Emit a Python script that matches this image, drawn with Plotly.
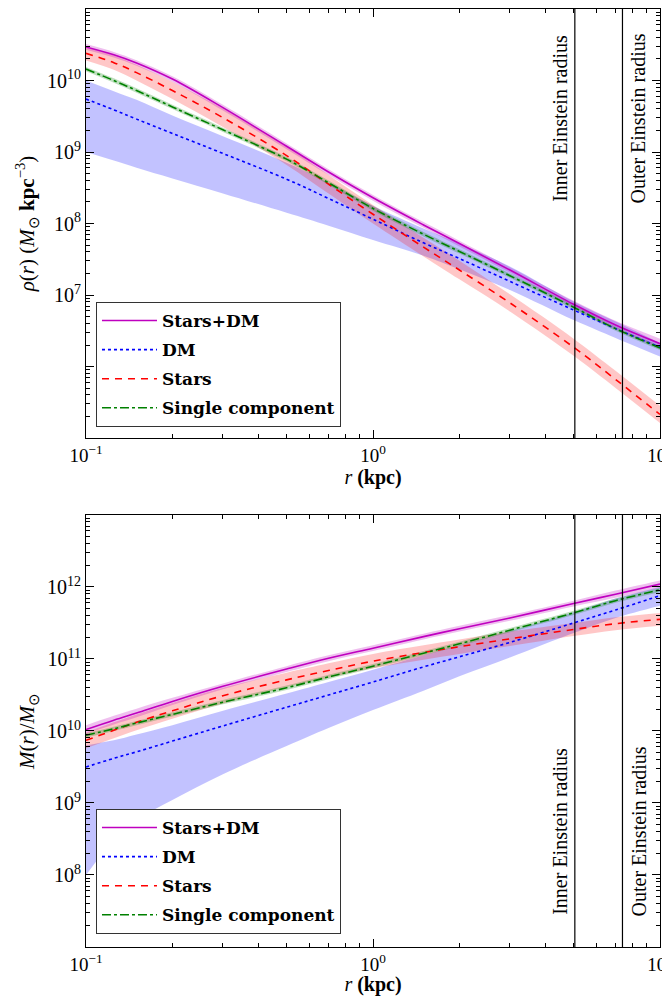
import math
import plotly.graph_objects as go

# ---------------- data ----------------
r_kpc = [0.1, 0.125, 0.15, 0.2, 0.3, 0.5, 0.7, 1, 1.5, 2, 3, 5, 7, 10]

# top panel: log10 rho(r) [M_sun kpc^-3]
rho_total    = [10.47, 10.36, 10.245, 10.02, 9.62, 9.08, 8.72, 8.36, 7.98, 7.72, 7.35, 6.87, 6.58, 6.32]
rho_total_lo = [10.43, 10.32, 10.205, 9.98, 9.58, 9.04, 8.68, 8.32, 7.94, 7.68, 7.31, 6.82, 6.52, 6.25]
rho_total_hi = [10.51, 10.40, 10.285, 10.06, 9.66, 9.12, 8.76, 8.40, 8.02, 7.76, 7.39, 6.92, 6.64, 6.39]

rho_dm    = [9.74, 9.59, 9.46, 9.26, 8.98, 8.62, 8.35, 8.06, 7.73, 7.51, 7.19, 6.79, 6.53, 6.27]
rho_dm_lo = [9.00, 8.88, 8.78, 8.63, 8.42, 8.15, 7.97, 7.77, 7.55, 7.36, 7.07, 6.65, 6.40, 6.14]
rho_dm_hi = [10.00, 9.85, 9.73, 9.51, 9.22, 8.85, 8.57, 8.25, 7.93, 7.72, 7.40, 6.91, 6.63, 6.33]

rho_stars    = [10.38, 10.25, 10.11, 9.86, 9.48, 8.95, 8.55, 8.13, 7.67, 7.35, 6.89, 6.27, 5.82, 5.33]
rho_stars_lo = [10.28, 10.15, 10.00, 9.74, 9.35, 8.82, 8.42, 8.00, 7.54, 7.22, 6.77, 6.15, 5.70, 5.21]
rho_stars_hi = [10.47, 10.35, 10.22, 9.98, 9.61, 9.08, 8.68, 8.26, 7.80, 7.48, 7.01, 6.39, 5.94, 5.45]

rho_single    = [10.16, 10.00, 9.86, 9.63, 9.31, 8.90, 8.57, 8.21, 7.85, 7.61, 7.27, 6.83, 6.53, 6.26]
rho_single_lo = [10.13, 9.97, 9.83, 9.60, 9.28, 8.87, 8.54, 8.18, 7.82, 7.58, 7.24, 6.80, 6.50, 6.23]
rho_single_hi = [10.19, 10.03, 9.89, 9.66, 9.34, 8.93, 8.60, 8.24, 7.88, 7.64, 7.30, 6.86, 6.56, 6.29]

# bottom panel: log10 M(<r) [M_sun]
m_total    = [10.02, 10.15, 10.25, 10.41, 10.62, 10.86, 11.01, 11.15, 11.31, 11.42, 11.57, 11.77, 11.90, 12.04]
m_total_lo = [9.96, 10.09, 10.19, 10.36, 10.58, 10.82, 10.97, 11.11, 11.27, 11.38, 11.53, 11.73, 11.85, 11.99]
m_total_hi = [10.08, 10.21, 10.31, 10.46, 10.66, 10.90, 11.05, 11.19, 11.35, 11.46, 11.61, 11.81, 11.95, 12.09]

m_dm = [9.50, 9.62, 9.71, 9.86, 10.07, 10.33, 10.50, 10.68, 10.89, 11.03, 11.23, 11.50, 11.68, 11.88]
r_band_dm = [0.1, 0.11, 0.125, 0.15, 0.2, 0.3, 0.5, 0.7, 1, 1.5, 2, 3, 5, 7, 10]
m_dm_lo = [8.00, 8.22, 8.50, 8.76, 9.04, 9.40, 9.79, 10.04, 10.29, 10.56, 10.76, 11.02, 11.36, 11.57, 11.74]
m_dm_hi = [9.80, 9.83, 9.87, 9.95, 10.08, 10.28, 10.52, 10.68, 10.85, 11.05, 11.19, 11.39, 11.65, 11.84, 12.00]

m_stars    = [9.87, 10.01, 10.12, 10.28, 10.49, 10.71, 10.84, 10.97, 11.09, 11.17, 11.28, 11.41, 11.49, 11.55]
m_stars_lo = [9.76, 9.90, 10.01, 10.17, 10.38, 10.61, 10.74, 10.87, 10.99, 11.07, 11.18, 11.32, 11.40, 11.46]
m_stars_hi = [9.98, 10.12, 10.23, 10.39, 10.60, 10.81, 10.94, 11.07, 11.19, 11.27, 11.38, 11.50, 11.58, 11.64]

m_single    = [9.94, 10.03, 10.11, 10.23, 10.40, 10.60, 10.75, 10.90, 11.08, 11.21, 11.40, 11.64, 11.81, 11.96]
m_single_lo = [9.91, 10.00, 10.08, 10.20, 10.37, 10.57, 10.72, 10.87, 11.05, 11.18, 11.37, 11.61, 11.78, 11.93]
m_single_hi = [9.97, 10.06, 10.14, 10.26, 10.43, 10.63, 10.78, 10.93, 11.11, 11.24, 11.43, 11.67, 11.84, 11.99]

INNER_EINSTEIN_R = 5.05
OUTER_EINSTEIN_R = 7.4

series_names = ["Stars+DM", "DM", "Stars", "Single component"]

# ---------------- styling ----------------
SERIF = "Liberation Serif"
LEGFONT = "DejaVu Serif"
C_TOT, C_DM, C_ST, C_SG = "#bf00bf", "#0000ff", "#ff0000", "#008000"
F_TOT, F_DM, F_ST, F_SG = ("rgba(191,0,191,0.25)", "rgba(0,0,255,0.24)",
                           "rgba(255,0,0,0.22)", "rgba(0,128,0,0.25)")
SMOOTH = 1.0


def p(vals):
    return [10 ** v for v in vals]


fig = go.Figure()


def band(x, lo, hi, fill, xa, ya):
    fig.add_trace(go.Scatter(x=x, y=p(lo), mode="lines", line=dict(width=0, shape="spline", smoothing=SMOOTH),
                             showlegend=False, hoverinfo="skip", xaxis=xa, yaxis=ya))
    fig.add_trace(go.Scatter(x=x, y=p(hi), mode="lines", line=dict(width=0, shape="spline", smoothing=SMOOTH),
                             fill="tonexty", fillcolor=fill, showlegend=False, hoverinfo="skip",
                             xaxis=xa, yaxis=ya))


def line(x, y, name, color, dash, xa, ya, legend):
    fig.add_trace(go.Scatter(x=x, y=p(y), mode="lines", name=name, legendgroup=legend + name,
                             line=dict(color=color, dash=dash, width=1.6, shape="spline", smoothing=SMOOTH),
                             xaxis=xa, yaxis=ya, legend=legend))


# top panel
band(r_kpc, rho_dm_lo, rho_dm_hi, F_DM, "x", "y")
band(r_kpc, rho_stars_lo, rho_stars_hi, F_ST, "x", "y")
band(r_kpc, rho_single_lo, rho_single_hi, F_SG, "x", "y")
band(r_kpc, rho_total_lo, rho_total_hi, F_TOT, "x", "y")
line(r_kpc, rho_total, series_names[0], C_TOT, "solid", "x", "y", "legend")
line(r_kpc, rho_dm, series_names[1], C_DM, "dot", "x", "y", "legend")
line(r_kpc, rho_stars, series_names[2], C_ST, "7px,6px", "x", "y", "legend")
line(r_kpc, rho_single, series_names[3], C_SG, "dashdot", "x", "y", "legend")

# bottom panel
band(r_band_dm, m_dm_lo, m_dm_hi, F_DM, "x2", "y2")
band(r_kpc, m_stars_lo, m_stars_hi, F_ST, "x2", "y2")
band(r_kpc, m_single_lo, m_single_hi, F_SG, "x2", "y2")
band(r_kpc, m_total_lo, m_total_hi, F_TOT, "x2", "y2")
line(r_kpc, m_total, series_names[0], C_TOT, "solid", "x2", "y2", "legend2")
line(r_kpc, m_dm, series_names[1], C_DM, "dot", "x2", "y2", "legend2")
line(r_kpc, m_stars, series_names[2], C_ST, "7px,6px", "x2", "y2", "legend2")
line(r_kpc, m_single, series_names[3], C_SG, "dashdot", "x2", "y2", "legend2")

# vertical Einstein-radius lines and labels
for xa, ya, ylab in (("x", "y", 0.8838), ("x2", "y2", 0.1237)):
    for rr in (INNER_EINSTEIN_R, OUTER_EINSTEIN_R):
        fig.add_shape(type="line", xref=xa, yref=ya + " domain", x0=rr, x1=rr, y0=0, y1=1,
                      line=dict(color="black", width=1.2))
    fig.add_annotation(x=math.log10(INNER_EINSTEIN_R), xref=xa, y=ylab, yref="paper",
                       text="Inner Einstein radius", textangle=-90, showarrow=False,
                       xanchor="center", yanchor="middle", xshift=-15,
                       font=dict(family=SERIF, size=20, color="black"))
    fig.add_annotation(x=math.log10(OUTER_EINSTEIN_R), xref=xa, y=ylab, yref="paper",
                       text="Outer Einstein radius", textangle=-90, showarrow=False,
                       xanchor="center", yanchor="middle", xshift=16,
                       font=dict(family=SERIF, size=20, color="black"))


def minor_vals(lo, hi):
    return [m * 10 ** k for k in range(lo, hi) for m in range(2, 10)]


def sup(k):
    return "10<sup>%s</sup>" % (str(k).replace("-", "\u2212"))


x_ticks = [0.1, 1, 10]
x_ticktext = [sup(-1), sup(0), sup(1)]

xcommon = dict(type="log", range=[-1, 1], showgrid=False, zeroline=False, showline=True, linecolor="black",
               linewidth=1, mirror="allticks", ticks="inside", ticklen=8, tickcolor="black",
               tickmode="array", tickvals=x_ticks, ticktext=x_ticktext, ticklabeloverflow="allow",
               tickfont=dict(family=SERIF, size=19, color="black"),
               minor=dict(ticks="inside", ticklen=4, tickcolor="black", tickmode="array",
                          tickvals=minor_vals(-1, 1)),
               title=dict(text="<i>r</i> <b>(kpc)</b>", font=dict(family=SERIF, size=20, color="black"),
                          standoff=4))

top_decades = list(range(5, 12))
top_labels = [sup(k) if 7 <= k <= 10 else "" for k in top_decades]
bot_decades = list(range(7, 14))
bot_labels = [sup(k) if 8 <= k <= 12 else "" for k in bot_decades]


def ycommon(decs, labs, rng, title):
    return dict(type="log", range=rng, showgrid=False, zeroline=False, showline=True, linecolor="black",
                linewidth=1, mirror="allticks", ticks="inside", ticklen=8, tickcolor="black",
                tickmode="array", tickvals=[10 ** k for k in decs], ticktext=labs,
                tickfont=dict(family=SERIF, size=20, color="black"),
                minor=dict(ticks="inside", ticklen=4, tickcolor="black", tickmode="array",
                           tickvals=minor_vals(decs[0], decs[-1])),
                title=dict(text=title, font=dict(family=SERIF, size=21, color="black"), standoff=6))


legend_style = dict(xanchor="left", yanchor="bottom", bordercolor="#333333", borderwidth=1,
                    bgcolor="white", traceorder="grouped", tracegroupgap=4, itemwidth=55,
                    font=dict(family=LEGFONT, size=17, color="black", weight="bold"))

fig.update_layout(
    width=662, height=988,
    margin=dict(l=78, r=10, t=1, b=49, autoexpand=False),
    paper_bgcolor="white", plot_bgcolor="white",
    showlegend=True,
    xaxis=dict(domain=[0, 1], anchor="y", **xcommon),
    yaxis=dict(domain=[0.5426, 1.0], anchor="x",
               **ycommon(top_decades, top_labels, [5, 11],
                         "<i>\u03c1</i>(<i>r</i>) (<i>M</i><sub>\u2299</sub> <b>kpc</b><sup>\u22123</sup>)")),
    xaxis2=dict(domain=[0, 1], anchor="y2", **xcommon),
    yaxis2=dict(domain=[0.0, 0.4606], anchor="x2",
                **ycommon(bot_decades, bot_labels, [7, 13], "<i>M</i>(<i>r</i>)/<i>M</i><sub>\u2299</sub>")),
    legend=dict(x=0.0174, y=0.5544, **legend_style),
    legend2=dict(x=0.0174, y=0.0139, **legend_style),
)

fig.write_html("out.html")
